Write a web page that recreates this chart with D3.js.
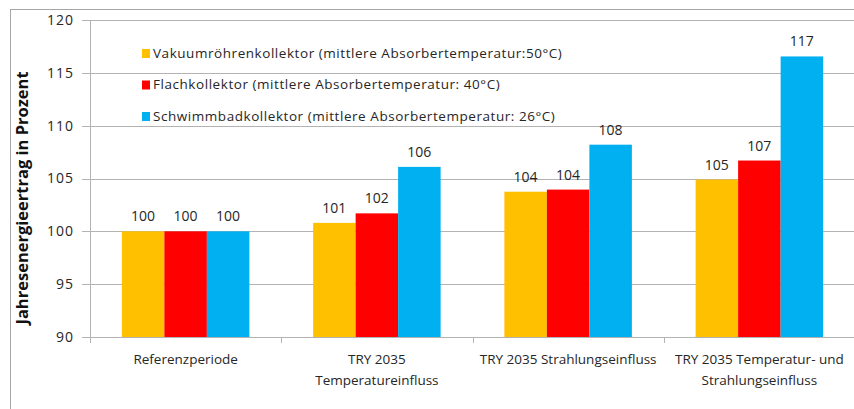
<!DOCTYPE html>
<html><head><meta charset="utf-8">
<script src="https://cdn.jsdelivr.net/npm/d3@7"></script>
<style>body{margin:0;background:#fff}svg{display:block}text{font-family:"Open Sans",Lato,sans-serif}</style>
</head><body><svg id="c" width="854" height="409"></svg>
<script>
const categories = [["Referenzperiode"],["TRY 2035","Temperatureinfluss"],["TRY 2035 Strahlungseinfluss"],["TRY 2035 Temperatur- und","Strahlungseinfluss"]];
const seriesNames = ["Vakuumröhrenkollektor (mittlere Absorbertemperatur:50°C)","Flachkollektor (mittlere Absorbertemperatur: 40°C)","Schwimmbadkollektor (mittlere Absorbertemperatur: 26°C)"];
const vakuum = [100, 100.8, 103.75, 104.9];
const flach = [100, 101.7, 103.95, 106.7];
const schwimm = [100, 106.1, 108.2, 116.55];
const yTicks = [90, 95, 100, 105, 110, 115, 120];
const colors = ["#FFC000", "#FF0000", "#00B0F0"];
const series = [vakuum, flach, schwimm];

const svg = d3.select("#c");
const m = {l: 90, r: 855, t: 20, b: 337};
svg.append("rect").attr("x", 10.5).attr("y", 9.5).attr("width", 860).attr("height", 420)
  .attr("fill", "none").attr("stroke", "#a6a6a6").attr("stroke-width", 1);

const x = d3.scaleBand().domain(d3.range(categories.length)).range([m.l, m.r]).paddingInner(0).paddingOuter(0);
const x1 = d3.scaleBand().domain(d3.range(series.length)).range([0, x.bandwidth()]).paddingOuter(0.75).paddingInner(0);
const y = d3.scaleLinear().domain([90, 120]).range([m.b, m.t]);

// gridlines
svg.append("g").selectAll("line").data(yTicks).join("line")
  .attr("x1", m.l - 8).attr("x2", m.r).attr("y1", d => Math.round(y(d)) + 0.5).attr("y2", d => Math.round(y(d)) + 0.5)
  .attr("stroke", "#b3b3b3").attr("stroke-width", 1);
// y axis line
svg.append("line").attr("x1", m.l + 0.5).attr("x2", m.l + 0.5).attr("y1", m.t).attr("y2", m.b + 6)
  .attr("stroke", "#b3b3b3");
// x ticks
svg.append("g").selectAll("line").data(d3.range(1, categories.length)).join("line")
  .attr("x1", d => Math.round(x(d)) + 0.5).attr("x2", d => Math.round(x(d)) + 0.5)
  .attr("y1", m.b).attr("y2", m.b + 6).attr("stroke", "#b3b3b3");

// y tick labels
svg.append("g").selectAll("text").data(yTicks).join("text")
  .attr("x", 74).attr("y", d => y(d)).attr("dy", "0.35em").attr("text-anchor", "end")
  .attr("font-size", 14).attr("letter-spacing", 1).attr("fill", "#262626").text(d => d);

// bars
const g = svg.append("g");
series.forEach((s, si) => {
  g.selectAll(null).data(s).join("rect")
    .attr("x", (d, i) => x(i) + x1(si)).attr("width", x1.bandwidth())
    .attr("y", d => y(d)).attr("height", d => y(90) - y(d)).attr("fill", colors[si]);
  g.selectAll(null).data(s).join("text")
    .attr("x", (d, i) => x(i) + x1(si) + x1.bandwidth() / 2).attr("y", d => y(d) - 10)
    .attr("text-anchor", "middle").attr("font-size", 14).attr("fill", "#262626")
    .text(d => d3.format(".0f")(d));
});

// baseline
svg.append("line").attr("x1", m.l).attr("x2", m.r).attr("y1", m.b + 0.5).attr("y2", m.b + 0.5).attr("stroke", "#b3b3b3");

// category labels
const cl = svg.append("g").selectAll("text").data(categories).join("text")
  .attr("text-anchor", "middle").attr("font-size", 13.5).attr("fill", "#262626")
  .attr("transform", (d, i) => `translate(${x(i) + x.bandwidth() / 2},364)`);
cl.selectAll("tspan").data(d => d).join("tspan").attr("x", 0).attr("dy", (d, i) => i ? 21 : 0).text(d => d);

// legend
const lg = svg.append("g").selectAll("g").data(seriesNames).join("g")
  .attr("transform", (d, i) => `translate(142,${53 + i * 31.5})`);
lg.append("rect").attr("x", 0).attr("y", -4).attr("width", 8).attr("height", 9).attr("fill", (d, i) => colors[i]);
lg.append("text").attr("x", 11).attr("dy", "0.35em").attr("font-size", 13.5).attr("letter-spacing", 0.55).attr("fill", "#262626").text(d => d);

// y title
svg.append("text").attr("transform", "translate(28,198) rotate(-90)").attr("text-anchor", "middle")
  .attr("font-size", 16.5).attr("font-weight", "bold").attr("fill", "#111").text("Jahresenergieertrag in Prozent");
</script></body></html>
